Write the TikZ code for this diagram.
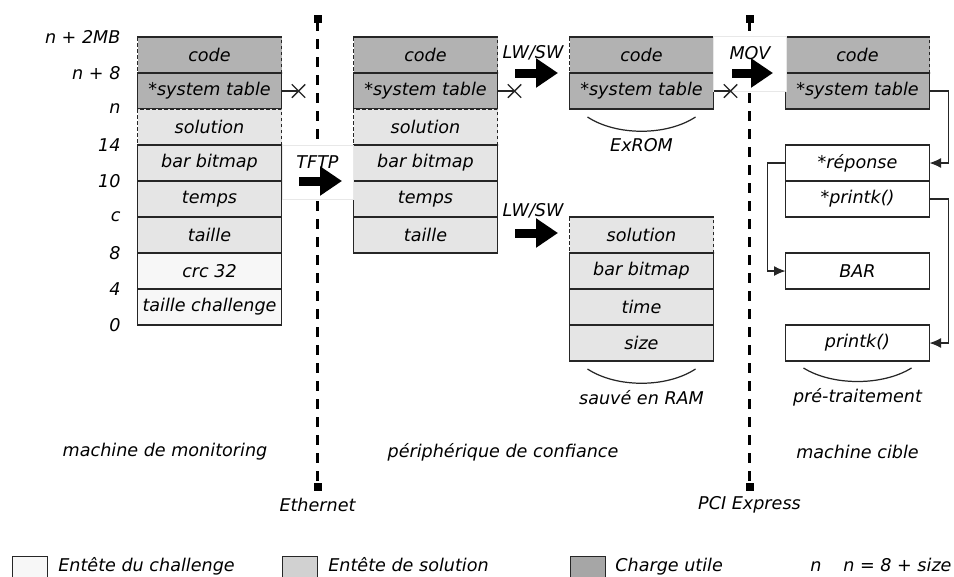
\documentclass[tikz,border=0pt]{standalone}
\usepackage{fontspec}
\setmainfont{DejaVu Sans}
\usetikzlibrary{positioning, arrows.meta, shapes.misc}

\begin{document}
\begin{tikzpicture}[x=0.2mm, y=-0.2mm, font=\itshape,
  cell/.style={draw=black!85, line width=0.7pt, minimum width=28.8mm, minimum height=7.2mm, inner sep=0pt, outer sep=0pt, anchor=north},
  payload/.style={cell, fill=black!30},
  solhdr/.style={cell, fill=black!10},
  chalhdr/.style={cell, fill=black!3},
  ptr/.style={cell, fill=white},
  opencell/.style={dash pattern=on 0.7mm off 0.5mm},
  wire/.style={draw=black!85, line width=0.7pt},
  arr/.style={wire, -{Latex[length=2.3mm, width=2mm]}},
  xmark/.style={cross out, draw=black!85, line width=0.8pt, minimum size=2.4mm, inner sep=0pt},
  bus/.style={line width=0.66mm, dash pattern=on 2mm off 1.6mm, {Square[length=1.6mm, width=1.6mm]}-{Square[length=1.6mm, width=1.6mm]}},
  bigarrow/.style={line width=1.8mm, -{Triangle[length=4.4mm, width=5.6mm]}},
  hop/.style={fill=white, draw=black!9, minimum width=14.2mm, minimum height=10.8mm},
  addr/.style={anchor=east, inner sep=0pt},
  legtxt/.style={anchor=base west, inner sep=0pt},
  legbox/.style={draw=black!85, line width=0.7pt, anchor=north west, minimum width=7mm, minimum height=4.8mm, inner sep=0pt}
]
\clip (0,0) rectangle (954,576);

% buses
\coordinate (ethtop) at (317.5,15);
\coordinate (ethbot) at (317.5,491);
\coordinate (pcitop) at (749.5,15);
\coordinate (pcibot) at (749.5,491);
\draw[bus] (ethtop) -- (ethbot);
\draw[bus] (pcitop) -- (pcibot);
\node (eth) at (317.5,505) {Ethernet};
\node (pci) at (749.5,505) {PCI Express};

% machine de monitoring
\node[payload, opencell] (code1) at (209.5,37) {code};
\node[payload, below=0pt of code1] (st1) {*system table};
\node[solhdr, opencell, below=0pt of st1] (sol1) {solution};
\node[solhdr, below=0pt of sol1] (bar1) {bar bitmap};
\node[solhdr, below=0pt of bar1] (tps1) {temps};
\node[solhdr, below=0pt of tps1] (tai1) {taille};
\node[chalhdr, below=0pt of tai1] (crc1) {crc 32};
\node[chalhdr, below=0pt of crc1] (tch1) {taille challenge};
\draw[wire] (code1.north west) -- (code1.north east);

\node[addr] (a0) at ([xshift=-9.5]code1.north west) {n + 2MB};
\node[addr] (a1) at ([xshift=-9.5]st1.north west) {n + 8};
\node[addr] (a2) at ([xshift=-9.5]sol1.north west) {n};
\node[addr] (a3) at ([xshift=-9.5]bar1.north west) {14};
\node[addr] (a4) at ([xshift=-9.5]tps1.north west) {10};
\node[addr] (a5) at ([xshift=-9.5]tai1.north west) {c};
\node[addr] (a6) at ([xshift=-9.5]crc1.north west) {8};
\node[addr] (a7) at ([xshift=-9.5]tch1.north west) {4};
\node[addr] (a8) at ([xshift=-9.5]tch1.south west) {0};

% peripherique de confiance
\node[payload, opencell] (code2) at (425.5,37) {code};
\node[payload, below=0pt of code2] (st2) {*system table};
\node[solhdr, opencell, below=0pt of st2] (sol2) {solution};
\node[solhdr, below=0pt of sol2] (bar2) {bar bitmap};
\node[solhdr, below=0pt of bar2] (tps2) {temps};
\node[solhdr, below=0pt of tps2] (tai2) {taille};
\draw[wire] (code2.north west) -- (code2.north east);

% ExROM
\node[payload, opencell] (code3) at (641.5,37) {code};
\node[payload, below=0pt of code3] (st3) {*system table};
\draw[wire] (code3.north west) -- (code3.north east);

% sauve en RAM
\node[solhdr, opencell] (sol3) at (641.5,217) {solution};
\node[solhdr, below=0pt of sol3] (bar3) {bar bitmap};
\node[solhdr, below=0pt of bar3] (tim3) {time};
\node[solhdr, below=0pt of tim3] (siz3) {size};
\draw[wire] (sol3.north west) -- (sol3.north east);

% machine cible
\node[payload, opencell] (code4) at (857.5,37) {code};
\node[payload, below=0pt of code4] (st4) {*system table};
\draw[wire] (code4.north west) -- (code4.north east);
\node[ptr] (rep4) at (857.5,145) {*réponse};
\node[ptr, below=0pt of rep4] (pk4) {*printk()};
\node[ptr] (bar4) at (857.5,253) {BAR};
\node[ptr] (prk4) at (857.5,325) {printk()};

% transfers
\node[hop] (tftp) at (317.5,172) {};
\node (tftplbl) at ([shift={(0,-10)}]tftp.center) {TFTP};
\draw[bigarrow] ([shift={(-18.5,9)}]tftp.center) -- ([shift={(24.5,9)}]tftp.center);

\node[hop, minimum width=14.6mm, minimum height=11mm] (mov) at (749.5,63.5) {};
\node (movlbl) at ([shift={(0.5,-10.5)}]mov.center) {MOV};
\draw[bigarrow] ([shift={(-17.5,9.5)}]mov.center) -- ([shift={(23.5,9.5)}]mov.center);

\node (lw1) at (533,53) {LW/SW};
\draw[bigarrow] ([shift={(-18,20)}]lw1.center) -- ([shift={(25,20)}]lw1.center);
\node (lw2) at (533,211) {LW/SW};
\draw[bigarrow] ([shift={(-18,22)}]lw2.center) -- ([shift={(25,22)}]lw2.center);

% cut pointers
\draw[wire] (st1.east) -- ++(17,0) node[xmark] (x1) {};
\draw[wire] (st2.east) -- ++(17,0) node[xmark] (x2) {};
\draw[wire] (st3.east) -- ++(17,0) node[xmark] (x3) {};

% pointers
\draw[arr] (st4.east) -- ++(19,0) |- (rep4.east);
\draw[arr] (rep4.west) -- ++(-18,0) |- (bar4.west);
\draw[arr] (pk4.east) -- ++(19,0) |- (prk4.east);

% braces
\draw[wire] ([shift={(-54,8)}]st3.south) .. controls ([shift={(-25,27)}]st3.south) and ([shift={(25,27)}]st3.south) .. ([shift={(54,8)}]st3.south);
\node (exrom) at ([shift={(0,36)}]st3.south) {ExROM};
\draw[wire] ([shift={(-54,8)}]siz3.south) .. controls ([shift={(-25,27)}]siz3.south) and ([shift={(25,27)}]siz3.south) .. ([shift={(54,8)}]siz3.south);
\node (ram) at ([shift={(0,37)}]siz3.south) {sauvé en RAM};
\draw[wire] ([shift={(-54,7)}]prk4.south) .. controls ([shift={(-25,25)}]prk4.south) and ([shift={(25,25)}]prk4.south) .. ([shift={(54,7)}]prk4.south);
\node (pretr) at ([shift={(0,36)}]prk4.south) {pré-traitement};

% titles
\node (t1) at (165,452) {machine de monitoring};
\node (t2) at (503,452) {périphérique de confiance};
\node (t3) at (857.5,452) {machine cible};

% legend
\node[legbox, fill=black!3] (lg1) at (12,556) {};
\node[legtxt] (lt1) at (58,571) {Entête du challenge};
\node[legbox, fill=black!18] (lg2) at (282,556) {};
\node[legtxt] (lt2) at (328,571) {Entête de solution};
\node[legbox, fill=black!35] (lg3) at (570,556) {};
\node[legtxt] (lt3) at (615,571) {Charge utile};
\node[legtxt] (lt4) at (810,571) {n};
\node[legtxt] (lt5) at (843,571) {n = 8 + size};
\end{tikzpicture}
\end{document}
